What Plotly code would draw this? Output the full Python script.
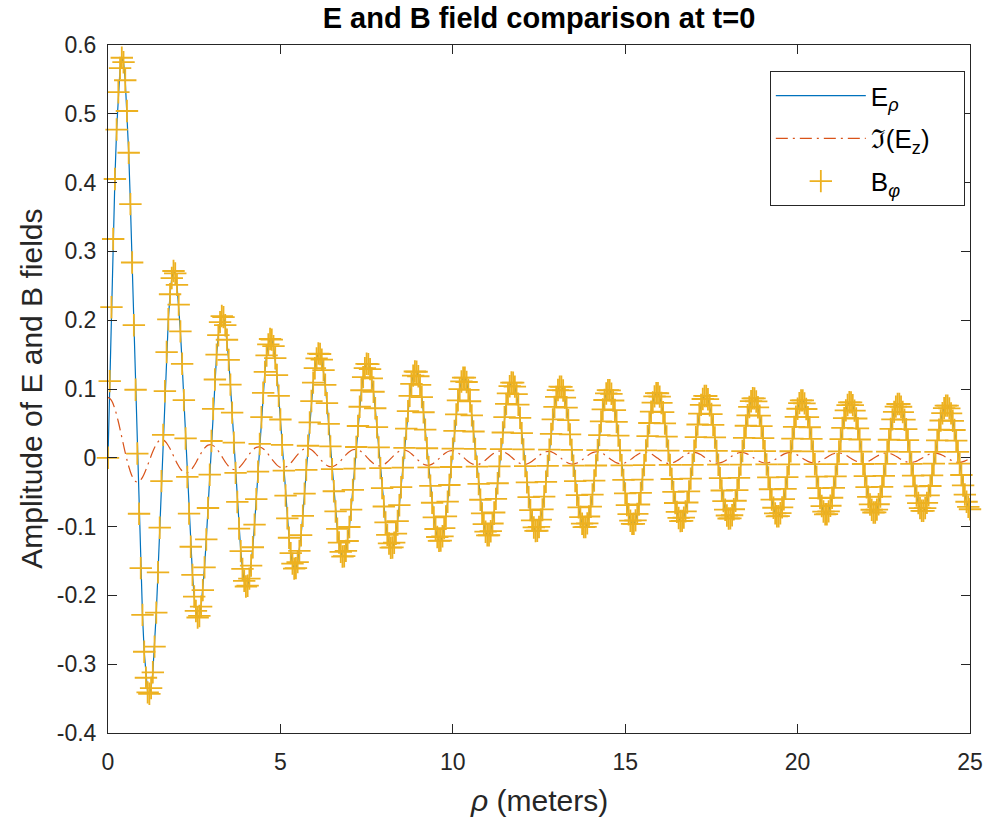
import numpy as np
import plotly.graph_objects as go

# Radial field component E_rho, sampled every 0.05 m from rho = 0 to 25 m
E_RHO = [
    0.0, 0.1115, 0.2189, 0.3180, 0.4052, 0.4771, 0.5314, 0.5665, 0.5815, 0.5750,
    0.5488, 0.5041, 0.4434, 0.3687, 0.2839, 0.1927, 0.0989, 0.0062, -0.0813, -0.1604,
    -0.2283, -0.2819, -0.3197, -0.3410,
    -0.3430, -0.3347, -0.3118, -0.2744,
    -0.2251, -0.1664, -0.1016, -0.0339, 0.0333, 0.0968, 0.1537, 0.2013, 0.2377, 0.2613, 0.2715, 0.2680, 0.2514, 0.2227,
    0.1838, 0.1366, 0.0839, 0.0281, -0.0278, -0.0811, -0.1293, -0.1701, -0.2017, -0.2226, -0.2321, -0.2299, -0.2163, -0.1923,
    -0.1592, -0.1187, -0.0730, -0.0246, 0.0244, 0.0712, 0.1138, 0.1500, 0.1782, 0.1972, 0.2060, 0.2045, 0.1927, 0.1716,
    0.1423, 0.1063, 0.0656, 0.0221, -0.0219, -0.0642, -0.1028, -0.1357, -0.1615, -0.1789, -0.1871, -0.1859, -0.1756, -0.1566,
    -0.1300, -0.0972, -0.0600, -0.0202, 0.0201, 0.0590, 0.0945, 0.1249, 0.1488, 0.1649, 0.1727, 0.1718, 0.1623, 0.1448,
    0.1203, 0.0901, 0.0557, 0.0188, -0.0187, -0.0549, -0.0879, -0.1162, -0.1385, -0.1538, -0.1611, -0.1604, -0.1516, -0.1353,
    -0.1125, -0.0843, -0.0521, -0.0176, 0.0175, 0.0514, 0.0825, 0.1092, 0.1302, 0.1445, 0.1515, 0.1509, 0.1427, 0.1275,
    0.1061, 0.0795, 0.0492, 0.0166, -0.0165, -0.0486, -0.0780, -0.1032, -0.1232, -0.1368, -0.1435, -0.1430, -0.1353, -0.1209,
    -0.1006, -0.0754, -0.0467, -0.0158, 0.0157, 0.0462, 0.0742, 0.0982, 0.1172, 0.1303, 0.1366, 0.1362, 0.1289, 0.1153,
    0.0960, 0.0720, 0.0445, 0.0151, -0.0150, -0.0441, -0.0708, -0.0938, -0.1120, -0.1245, -0.1307, -0.1303, -0.1234, -0.1103,
    -0.0919, -0.0689, -0.0427, -0.0144, 0.0144, 0.0423, 0.0679, 0.0900, 0.1074, 0.1195, 0.1254, 0.1251, 0.1185, 0.1060,
    0.0882, 0.0662, 0.0410, 0.0139, -0.0138, -0.0407, -0.0653, -0.0866, -0.1035, -0.1151, -0.1207, -0.1204, -0.1141, -0.1021,
    -0.0851, -0.0638, -0.0395, -0.0134, 0.0133, 0.0392, 0.0630, 0.0836, 0.0998, 0.1110, 0.1166, 0.1164, 0.1102, 0.0986,
    0.0822, 0.0617, 0.0382, 0.0129, -0.0129, -0.0380, -0.0610, -0.0808, -0.0965, -0.1074, -0.1128, -0.1126, -0.1067, -0.0955,
    -0.0795, -0.0597, -0.0370, -0.0125, 0.0125, 0.0368, 0.0591, 0.0783, 0.0936, 0.1041, 0.1094, 0.1092, 0.1035, 0.0926,
    0.0772, 0.0580, 0.0359, 0.0122, -0.0121, -0.0357, -0.0573, -0.0761, -0.0909, -0.1012, -0.1063, -0.1060, -0.1005, -0.0900,
    -0.0750, -0.0563, -0.0349, -0.0118, 0.0118, 0.0347, 0.0558, 0.0740, 0.0885, 0.0985, 0.1034, 0.1032, 0.0979, 0.0876,
    0.0730, 0.0548, 0.0340, 0.0115, -0.0115, -0.0338, -0.0543, -0.0721, -0.0861, -0.0958, -0.1007, -0.1005, -0.0953, -0.0853,
    -0.0711, -0.0534, -0.0331, -0.0112, 0.0112, 0.0329, 0.0530, 0.0703, 0.0840, 0.0935, 0.0983, 0.0981, 0.0930, 0.0833,
    0.0694, 0.0521, 0.0323, 0.0109, -0.0109, -0.0322, -0.0517, -0.0687, -0.0820, -0.0914, -0.0960, -0.0959, -0.0909, -0.0815,
    -0.0679, -0.0510, -0.0316, -0.0107, 0.0107, 0.0314, 0.0506, 0.0671, 0.0803, 0.0893, 0.0939, 0.0938, 0.0889, 0.0797,
    0.0664, 0.0499, 0.0309, 0.0105, -0.0104, -0.0308, -0.0495, -0.0657, -0.0786, -0.0874, -0.0919, -0.0917, -0.0870, -0.0779,
    -0.0650, -0.0488, -0.0303, -0.0102, 0.0102, 0.0301, 0.0484, 0.0643, 0.0769, 0.0855, 0.0899, 0.0898, 0.0852, 0.0763,
    0.0636, 0.0478, 0.0296, 0.0100, -0.0100, -0.0295, -0.0475, -0.0630, -0.0754, -0.0839, -0.0882, -0.0880, -0.0835, -0.0748,
    -0.0624, -0.0469, -0.0291, -0.0098, 0.0098, 0.0290, 0.0466, 0.0618, 0.0739, 0.0823, 0.0865, 0.0864, 0.0819, 0.0734,
    0.0612, 0.0460, 0.0285, 0.0097, -0.0097, -0.0284, -0.0457, -0.0607, -0.0726, -0.0808, -0.0850, -0.0849, -0.0805, -0.0721,
    -0.0602, -0.0452, -0.0280, -0.0095, 0.0095, 0.0279, 0.0449, 0.0596, 0.0713, 0.0794, 0.0835, 0.0834, 0.0791, 0.0709,
    0.0591, 0.0444, 0.0275, 0.0093, -0.0093, -0.0274, -0.0442, -0.0586, -0.0701, -0.0781, -0.0821, -0.0820, -0.0778, -0.0697,
    -0.0581, -0.0437, -0.0271, -0.0092, 0.0092, 0.0270, 0.0434, 0.0576, 0.0689, 0.0767, 0.0807, 0.0806, 0.0765, 0.0685,
    0.0571, 0.0429, 0.0266, 0.0090, -0.0090, -0.0266, -0.0427, -0.0567, -0.0678, -0.0755, -0.0795, -0.0794, -0.0753, -0.0675,
    -0.0563, -0.0423, -0.0262, -0.0089, 0.0089, 0.0262, 0.0421, 0.0559, 0.0668, 0.0744, 0.0782, 0.0782, 0.0742, 0.0665,
    0.0554, 0.0417, 0.0258, 0.0087, -0.0087, -0.0258, -0.0414, -0.0550, -0.0658, -0.0732, -0.0770, -0.0770, -0.0731, -0.0655,
    -0.0546, -0.0410, -0.0254, -0.0086, 0.0086, 0.0254, 0.0408, 0.0542, 0.0648, 0.0722, 0.0759, 0.0758, 0.0719, 0.0645,
    0.0538, 0.0404, 0.0251, 0.0085, -0.0085, -0.0250, -0.0402, -0.0534, -0.0639, -0.0712, -0.0748,
]

# Azimuthal magnetic field B_phi on the same grid (coincides with E_rho)
B_PHI = list(E_RHO)

# Imaginary part of the axial field E_z, sampled every 0.1 m
IM_EZ = [
    0.0880, 0.0836, 0.0711, 0.0524, 0.0301, 0.0075, -0.0123, -0.0268, -0.0344, -0.0346,
    -0.0284, -0.0174, -0.0040, 0.0091, 0.0194, 0.0254, 0.0260,
    0.0215, 0.0131, 0.0027, -0.0077, -0.0162, -0.0211, -0.0217, -0.0181, -0.0112, -0.0023,
    0.0067, 0.0140, 0.0184, 0.0190, 0.0159, 0.0099, 0.0020, -0.0059, -0.0125, -0.0165,
    -0.0171, -0.0144, -0.0089, -0.0019, 0.0054, 0.0114, 0.0151, 0.0157, 0.0132, 0.0082,
    0.0017, -0.0050, -0.0106, -0.0140, -0.0146, -0.0123, -0.0077, -0.0016, 0.0047, 0.0099,
    0.0131, 0.0137, 0.0116, 0.0072, 0.0015, -0.0044, -0.0093, -0.0124, -0.0129, -0.0109,
    -0.0068, -0.0014, 0.0042, 0.0089, 0.0117, 0.0123, 0.0104, 0.0065, 0.0014, -0.0040,
    -0.0084, -0.0112, -0.0117, -0.0099, -0.0062, -0.0013, 0.0038,
    0.0081, 0.0107, 0.0112, 0.0095, 0.0059, 0.0012, -0.0037, -0.0078, -0.0103, -0.0108, -0.0092, -0.0057, -0.0012, 0.0035,
    0.0075, 0.0099, 0.0104, 0.0088, 0.0055, 0.0012, -0.0034, -0.0072, -0.0096, -0.0101, -0.0085, -0.0053, -0.0011, 0.0033,
    0.0070, 0.0093, 0.0098, 0.0083, 0.0052, 0.0011, -0.0032, -0.0068, -0.0090, -0.0095, -0.0080, -0.0050, -0.0011, 0.0031,
    0.0066, 0.0088, 0.0092, 0.0078, 0.0049, 0.0010, -0.0030, -0.0064, -0.0086, -0.0090, -0.0076, -0.0048, -0.0010, 0.0029,
    0.0063, 0.0083, 0.0087, 0.0074, 0.0046, 0.0010, -0.0029, -0.0061, -0.0081, -0.0085, -0.0072, -0.0045, -0.0010, 0.0028,
    0.0060, 0.0079, 0.0083, 0.0071, 0.0044, 0.0009, -0.0027, -0.0058, -0.0078, -0.0082, -0.0069, -0.0043, -0.0009, 0.0027,
    0.0057, 0.0076, 0.0080, 0.0068, 0.0043, 0.0009, -0.0026, -0.0056, -0.0075, -0.0078, -0.0067, -0.0042, -0.0009, 0.0026,
    0.0055, 0.0073, 0.0077, 0.0065, 0.0041, 0.0009, -0.0025, -0.0054, -0.0072, -0.0075, -0.0064, -0.0040, -0.0008, 0.0025,
    0.0053, 0.0071, 0.0074, 0.0063, 0.0039, 0.0008, -0.0024, -0.0052, -0.0069, -0.0073, -0.0062, -0.0039, -0.0008, 0.0024,
    0.0051, 0.0068, 0.0072, 0.0061, 0.0038, 0.0008, -0.0024, -0.0050, -0.0067, -0.0070, -0.0060, -0.0038, -0.0008, 0.0023,
    0.0049, 0.0066, 0.0069, 0.0059, 0.0037, 0.0008, -0.0023, -0.0049, -0.0065, -0.0068, -0.0058, -0.0036, -0.0008, 0.0022,
    0.0048, 0.0064, 0.0067, 0.0057, 0.0036, 0.0008, -0.0022, -0.0047, -0.0063, -0.0066, -0.0056, -0.0035, -0.0007,
]

X_TICKS = [0, 5, 10, 15, 20, 25]
Y_TICKS = [-0.4, -0.3, -0.2, -0.1, 0, 0.1, 0.2, 0.3, 0.4, 0.5, 0.6]
Y_TICK_TEXT = ["-0.4", "-0.3", "-0.2", "-0.1", "0", "0.1", "0.2", "0.3", "0.4", "0.5", "0.6"]

# sampling grids (metres)
rho_fine = np.arange(len(E_RHO)) * 0.05
rho_coarse = np.arange(len(IM_EZ)) * 0.1

BLUE = "#0072BD"
ORANGE = "#D95319"
YELLOW = "#EDB120"
AXIS = "#262626"
FONT = "Liberation Sans, Arial, Helvetica, sans-serif"
PAD = "\u00a0" * 4  # right padding inside the legend box

fig = go.Figure()
fig.add_trace(go.Scatter(
    x=rho_fine, y=E_RHO, mode="lines", name="E<sub><i>ρ</i></sub>" + PAD,
    legendgroup="e", line=dict(color=BLUE, width=1.2),
))
fig.add_trace(go.Scatter(
    x=rho_coarse, y=IM_EZ, mode="lines", name="ℑ(E<sub>z</sub>)" + PAD,
    legendgroup="z",
    line=dict(color=ORANGE, width=1.2, dash="12px,5px,2px,5px", shape="spline"),
))
fig.add_trace(go.Scatter(
    x=rho_fine, y=B_PHI, mode="markers", name="B<sub><i>φ</i></sub>" + PAD,
    legendgroup="b",
    marker=dict(symbol="cross-thin", size=16, color=YELLOW,
                line=dict(color=YELLOW, width=1.8)),
    cliponaxis=False,
))

axis_common = dict(
    showline=True, linecolor=AXIS, linewidth=1, mirror="ticks",
    ticks="inside", ticklen=9, tickwidth=1, tickcolor=AXIS,
    showgrid=False, zeroline=False,
    tickfont=dict(family=FONT, size=23, color=AXIS),
)

fig.update_xaxes(range=[0, 25], tickvals=X_TICKS, ticklabelstandoff=8, **axis_common)
fig.update_yaxes(range=[-0.4, 0.6], tickvals=Y_TICKS, ticktext=Y_TICK_TEXT,
                 ticklabelstandoff=6, **axis_common)

ML, MR, MT, MB = 108, 17, 45, 92
W, H = 995, 825

fig.update_layout(
    width=W, height=H,
    margin=dict(l=ML, r=MR, t=MT, b=MB),
    paper_bgcolor="white", plot_bgcolor="white",
    showlegend=True,
    title=dict(text="<b>E and B field comparison at t=0</b>",
               font=dict(family=FONT, size=29, color="black"),
               x=0.5, xref="paper", xanchor="center",
               y=1 - 18 / H, yref="container", yanchor="middle"),
    legend=dict(
        x=0.994, y=0.962, xanchor="right", yanchor="top",
        bgcolor="white", bordercolor=AXIS, borderwidth=1,
        font=dict(family=FONT, size=26, color="black"),
        itemwidth=90, tracegroupgap=6,
    ),
    annotations=[
        dict(text="Amplitude of E and B fields", textangle=-90,
             x=30, y=389, xref="paper", yref="paper",
             xanchor="center", yanchor="middle",
             showarrow=False, font=dict(family=FONT, size=30, color=AXIS)),
        dict(text="<i>ρ</i> (meters)",
             x=543, y=800, xref="paper", yref="paper",
             xanchor="center", yanchor="middle",
             showarrow=False, font=dict(family=FONT, size=30, color=AXIS)),
    ],
)

# annotation positions above are given in pixels; convert to paper fractions
pw, ph = W - ML - MR, H - MT - MB
for ann in fig.layout.annotations:
    ann.x = (ann.x - ML) / pw
    ann.y = (H - MB - ann.y) / ph

fig.write_html("out.html")
